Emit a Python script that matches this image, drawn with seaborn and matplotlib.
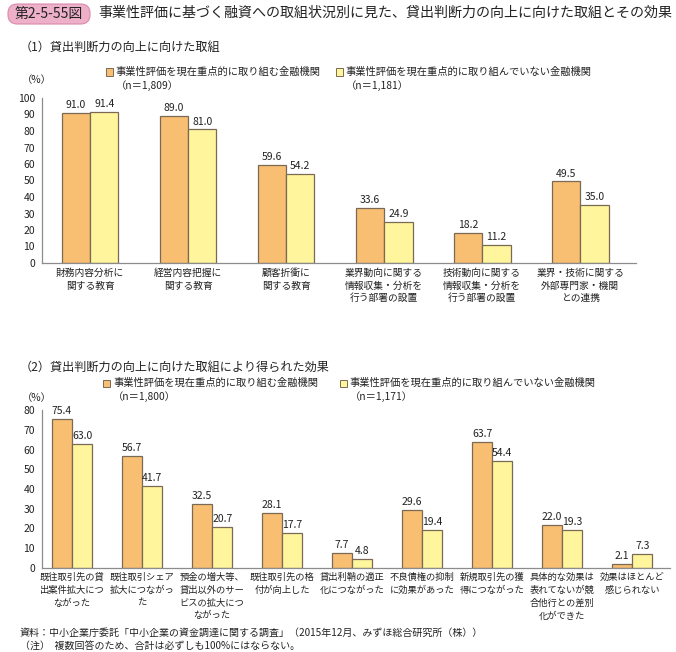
import matplotlib
matplotlib.use("Agg")
import matplotlib.pyplot as plt
from matplotlib.patches import Rectangle, FancyBboxPatch
import pandas as pd
import seaborn as sns

# データ
grp_a = "事業性評価を現在重点的に取り組む金融機関"
grp_b = "事業性評価を現在重点的に取り組んでいない金融機関"

cats1 = ["財務内容分析に\n関する教育", "経営内容把握に\n関する教育", "顧客折衝に\n関する教育",
         "業界動向に関する\n情報収集・分析を\n行う部署の設置",
         "技術動向に関する\n情報収集・分析を\n行う部署の設置",
         "業界・技術に関する\n外部専門家・機関\nとの連携"]
vals1_a = [91.0, 89.0, 59.6, 33.6, 18.2, 49.5]
vals1_b = [91.4, 81.0, 54.2, 24.9, 11.2, 35.0]
n1 = ["（n＝1,809）", "（n＝1,181）"]

cats2 = ["既往取引先の貸\n出案件拡大につ\nながった", "既往取引シェア\n拡大につながっ\nた",
         "預金の増大等、\n貸出以外のサー\nビスの拡大につ\nながった", "既往取引先の格\n付が向上した",
         "貸出利鞘の適正\n化につながった", "不良債権の抑制\nに効果があった",
         "新規取引先の獲\n得につながった", "具体的な効果は\n表れてないが競\n合他行との差別\n化ができた",
         "効果はほとんど\n感じられない"]
vals2_a = [75.4, 56.7, 32.5, 28.1, 7.7, 29.6, 63.7, 22.0, 2.1]
vals2_b = [63.0, 41.7, 20.7, 17.7, 4.8, 19.4, 54.4, 19.3, 7.3]
n2 = ["（n＝1,800）", "（n＝1,171）"]

orange = "#F8BE72"
yellow = "#FFF59C"
edge = "#7A6A55"
axis_gray = "#8C8C8C"

sns.set_style("white")
plt.rcParams["font.family"] = ["Noto Sans CJK JP", "DejaVu Sans"]

fig = plt.figure(figsize=(6.76, 6.52), dpi=100)
W, H = 676, 652


def px(x, y):
    return x / W, 1 - y / H


def make_df(cats, va, vb):
    rows = []
    for c, a, b in zip(cats, va, vb):
        rows.append({"項目": c, "区分": grp_a, "値": a})
        rows.append({"項目": c, "区分": grp_b, "値": b})
    return pd.DataFrame(rows)


def draw_panel(ax, cats, va, vb, ymax, ystep, xlim, lab_size, lab_space):
    df = make_df(cats, va, vb)
    sns.barplot(data=df, x="項目", y="値", hue="区分", order=cats, hue_order=[grp_a, grp_b],
                palette=[orange, yellow], width=0.58, edgecolor=edge, linewidth=0.9,
                errorbar=None, legend=False, ax=ax, saturation=1)
    for cont in ax.containers:
        ax.bar_label(cont, fmt="%.1f", padding=2, fontsize=7.5, color="#222222")
    ax.set_ylim(0, ymax)
    ax.set_yticks(range(0, ymax + 1, ystep))
    ax.set_xlim(*xlim)
    ax.set_xlabel("")
    ax.set_ylabel("")
    ax.set_xticks([i + 0.5 for i in range(len(cats))], minor=True)
    ax.set_xticks(range(len(cats)))
    ax.set_xticklabels(cats, fontsize=lab_size, linespacing=lab_space, color="#222222")
    ax.tick_params(axis="x", which="major", length=0, pad=3.5)
    ax.tick_params(axis="x", which="minor", direction="in", length=3, color=axis_gray, width=0.8)
    ax.tick_params(axis="y", direction="out", length=3, color=axis_gray, width=0.8,
                   labelsize=7.5, pad=2, labelcolor="#222222")
    for s in ["top", "right"]:
        ax.spines[s].set_visible(False)
    for s in ["left", "bottom"]:
        ax.spines[s].set_color(axis_gray)
        ax.spines[s].set_linewidth(0.9)


def legend_block(y, xs, ns):
    for x, label, n, col in zip(xs, [grp_a, grp_b], ns, [orange, yellow]):
        x0, y0 = px(x, y + 3.5)
        fig.patches.append(Rectangle((x0, y0), 7 / W, 7 / H, transform=fig.transFigure,
                                     facecolor=col, edgecolor=edge, linewidth=0.7))
        tx, ty = px(x + 10, y)
        fig.text(tx, ty, label, fontsize=7.4, va="center", ha="left", color="#222222")
        tx, ty = px(x + 10, y + 14)
        fig.text(tx, ty, n, fontsize=7.4, va="center", ha="left", color="#222222")


# ヘッダー
bx, by = px(8, 24)
fig.patches.append(FancyBboxPatch((bx, by), 82 / W, 20 / H, transform=fig.transFigure,
                                  boxstyle="round,pad=0,rounding_size=0.014",
                                  facecolor="#EDB0C8", edgecolor="#D98AAA", linewidth=0.8))
tx, ty = px(49, 14)
fig.text(tx, ty, "第2-5-55図", fontsize=10, ha="center", va="center", color="#222222")
tx, ty = px(98, 13)
fig.text(tx, ty, "事業性評価に基づく融資への取組状況別に見た、貸出判断力の向上に向けた取組とその効果",
         fontsize=10.1, ha="left", va="center", color="#222222")

# (1)
tx, ty = px(20, 47)
fig.text(tx, ty, "（1）貸出判断力の向上に向けた取組", fontsize=8.7, ha="left", va="center", color="#222222")
legend_block(72, [106, 336], n1)
tx, ty = px(22, 80)
fig.text(tx, ty, "（%）", fontsize=7.4, ha="left", va="center", color="#222222")

ax1 = fig.add_axes([42 / W, 1 - 263 / H, 594 / W, 165 / H])
draw_panel(ax1, cats1, vals1_a, vals1_b, 100, 10, (-0.49, 5.57), 7.0, 1.34)

# (2)
tx, ty = px(20, 367)
fig.text(tx, ty, "（2）貸出判断力の向上に向けた取組により得られた効果", fontsize=8.7, ha="left", va="center",
         color="#222222")
legend_block(383, [103, 340], n2)
tx, ty = px(22, 398)
fig.text(tx, ty, "（%）", fontsize=7.4, ha="left", va="center", color="#222222")

ax2 = fig.add_axes([42 / W, 1 - 568 / H, 628 / W, 158 / H])
draw_panel(ax2, cats2, vals2_a, vals2_b, 80, 10, (-0.43, 8.54), 6.7, 1.5)

# 注記
tx, ty = px(20, 633)
fig.text(tx, ty, "資料：中小企業庁委託「中小企業の資金調達に関する調査」（2015年12月、みずほ総合研究所（株））",
         fontsize=7.2, ha="left", va="center", color="#222222")
tx, ty = px(20, 646)
fig.text(tx, ty, "（注）  複数回答のため、合計は必ずしも100%にはならない。",
         fontsize=7.2, ha="left", va="center", color="#222222")

fig.savefig("out.png", dpi=100)
